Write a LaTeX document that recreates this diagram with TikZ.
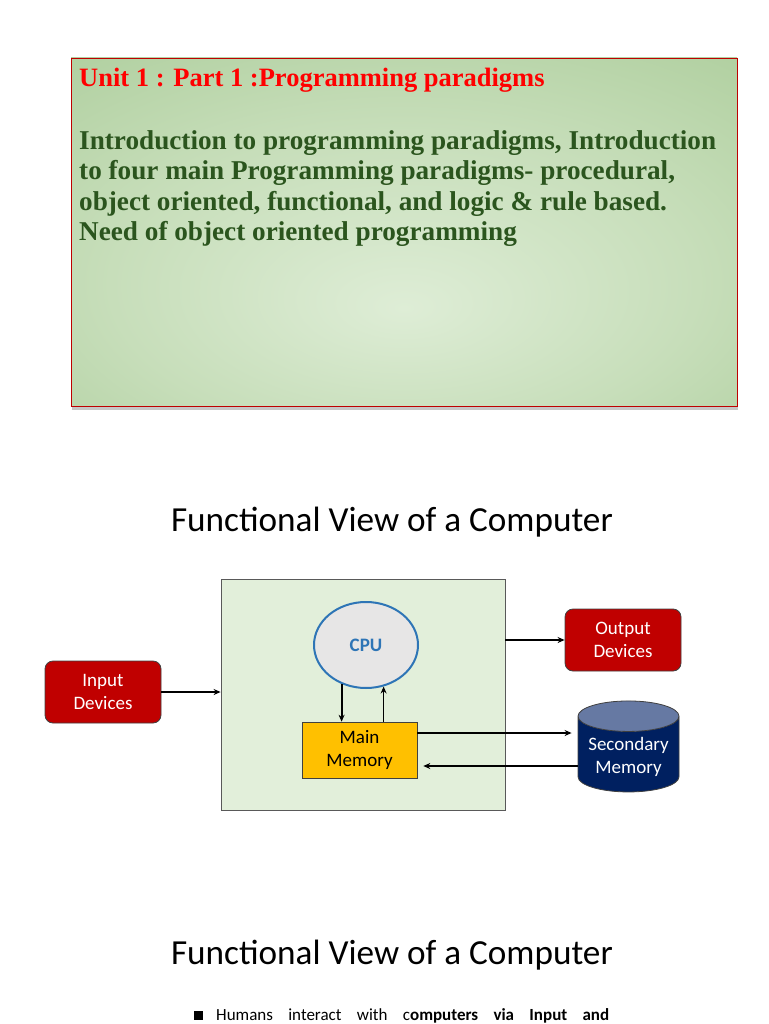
\documentclass[tikz,border=0pt]{standalone}
\usepackage{fontspec}
\setmainfont{Carlito}
\newfontfamily\unitfont{Liberation Serif}
\usetikzlibrary{shapes.geometric,arrows.meta,positioning,shadows}
\definecolor{devred}{HTML}{C00000}
\definecolor{sysgreen}{HTML}{E2EFDA}
\definecolor{cpugray}{HTML}{E7E6E6}
\definecolor{cpublue}{HTML}{2E75B6}
\definecolor{memgold}{HTML}{FFC000}
\definecolor{secnavy}{HTML}{002060}
\definecolor{sectop}{HTML}{6679A3}
\definecolor{unitgreen}{HTML}{2B551E}
\definecolor{glowA}{HTML}{DEEDD6}
\definecolor{glowB}{HTML}{C7DEBA}
\definecolor{glowC}{HTML}{A6C994}
\definecolor{glowD}{HTML}{8EBA78}
\pgfdeclareradialshading{cardglow}{\pgfpoint{0bp}{-11bp}}{%
  color(0bp)=(glowA);
  color(22bp)=(glowB);
  color(48bp)=(glowC);
  color(70bp)=(glowD)}

\begin{document}
\begin{tikzpicture}[
    x=1pt, y=-1pt,
    font=\fontsize{19}{23}\selectfont,
    device/.style={draw=black!75, rounded corners=8pt, fill=devred, text=white, minimum width=116pt, minimum height=62pt, align=center, line width=0.8pt},
    block/.style={draw=black!75, fill=memgold, minimum width=115pt, minimum height=56pt, align=center, line width=0.6pt},
    heading/.style={font=\fontsize{35.2}{40}\selectfont},
    cardtext/.style={font=\unitfont\bfseries\fontsize{27.2}{30.5}\selectfont},
    link/.style={-{Stealth[length=7pt,width=6pt]}, line width=1.2pt},
    heavylink/.style={-{Stealth[length=7pt,width=6pt]}, line width=2.4pt}
]
\useasboundingbox (0,0) rectangle (768,1024);

% unit summary card
\node[draw=red!75!black, line width=0.8pt, shading=cardglow,
      drop shadow={shadow xshift=1pt, shadow yshift=-4pt, opacity=0.45},
      minimum width=666pt, minimum height=348pt] (unitbox) at (404,232) {};
\node[cardtext, anchor=base west, inner sep=0pt, text=red, font=\unitfont\bfseries\fontsize{26.5}{30.5}\selectfont] (unittitle) at (79,87) {Unit 1 : Part 1 :Programming paradigms};
\node[cardtext, anchor=base west, inner sep=0pt, align=left, text=unitgreen] (unitbody) at (79,240.5)
    {Introduction to programming paradigms, Introduction\\
     to four main Programming paradigms- procedural,\\
     object oriented, functional, and logic \& rule based.\\
     Need of object oriented programming};

% functional view
\node[heading] (viewtitle) at (392,522) {Functional View of a Computer};

\node[draw=black!65, fill=sysgreen, minimum width=284pt, minimum height=231pt, line width=0.8pt] (sysbox) at (363,694.5) {};
\node[ellipse, draw=cpublue, line width=2pt, fill=cpugray, text=cpublue, font=\bfseries\fontsize{19}{23}\selectfont,
      minimum width=104pt, minimum height=86pt] (cpu) at (366,645) {CPU};
\node[block] (mainmem) at (359.5,750) {Main\\Memory};

\node[device] (indev) at (103,692) {Input\\Devices};
\node[device] (outdev) at (623,640) {Output\\Devices};
\node[cylinder, shape border rotate=90, aspect=0.35, draw=black!75, line width=0.8pt,
      cylinder uses custom fill, cylinder body fill=secnavy, cylinder end fill=sectop,
      text=white, align=center, minimum width=101pt, minimum height=91pt] (secmem) at (628.5,757) {Secondary\\Memory};

\draw[heavylink] (indev.east) -- (indev.east -| sysbox.west);
\draw[link] (outdev.west -| sysbox.east) -- (outdev.west);
\draw[heavylink, line width=2pt] (cpu.238) -- (cpu.238 |- mainmem.north);
\draw[link] (cpu.293 |- mainmem.north) -- (cpu.293);
\draw[link, shorten >=6pt] ([yshift=17pt]mainmem.east) -- ([yshift=17pt]mainmem.east -| secmem.west);
\draw[link, shorten >=6pt] ([yshift=-16pt]mainmem.east -| secmem.west) -- ([yshift=-16pt]mainmem.east);

% second slide
\node[heading] (viewtitle2) at (392,955) {Functional View of a Computer};
\node[fill=black, inner sep=0pt, minimum size=9pt] (bullet) at (198,1015) {};
\node[anchor=base west, inner sep=0pt, font=\fontsize{17}{21}\selectfont] (humans) at (216,1020)
    {\makebox[393pt][s]{Humans interact with c\textbf{omputers via Input and}}};
\end{tikzpicture}
\end{document}
